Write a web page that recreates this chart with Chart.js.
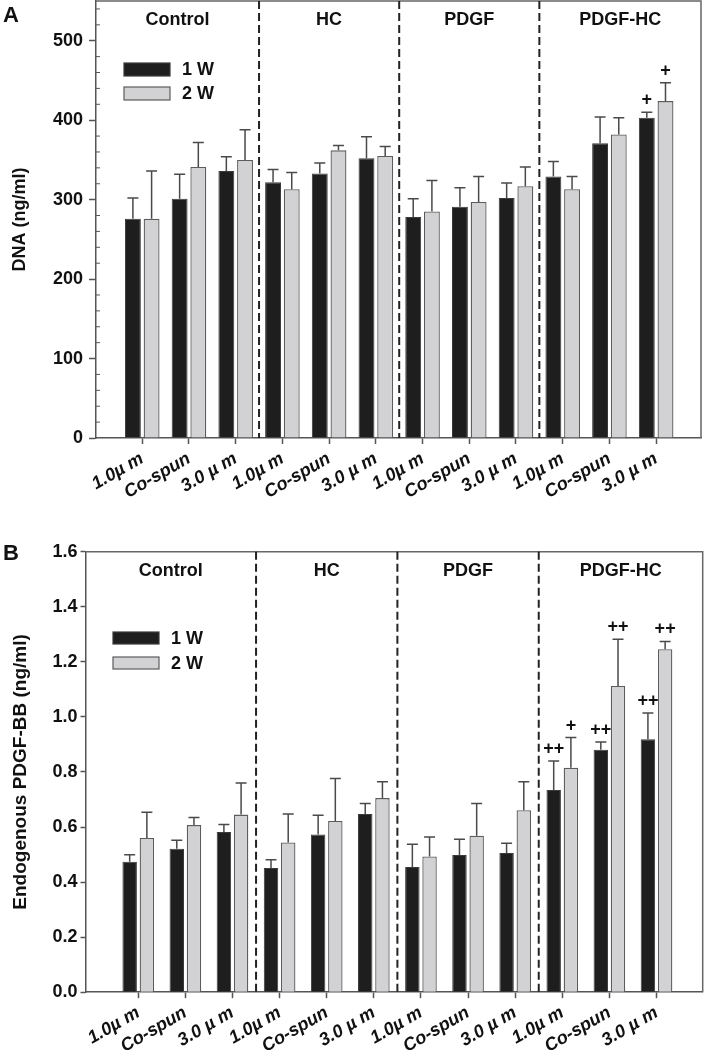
<!DOCTYPE html>
<html>
<head>
<meta charset="utf-8">
<script src="https://cdn.jsdelivr.net/npm/chart.js@4.4.0/dist/chart.umd.min.js"></script>
<style>
  body { margin: 0; background: #fff; }
  canvas { position: absolute; left: 0; }
  #painelA { top: 0; }
  #painelB { top: 525px; }
</style>
</head>
<body>
<canvas id="painelA" width="704" height="525"></canvas>
<canvas id="painelB" width="704" height="525"></canvas>
<script>
// categorias do eixo x e grupos
const tickLabels = ['1.0µ m', 'Co-spun', '3.0 µ m', '1.0µ m', 'Co-spun', '3.0 µ m',
                    '1.0µ m', 'Co-spun', '3.0 µ m', '1.0µ m', 'Co-spun', '3.0 µ m'];
const groupNames = ['Control', 'HC', 'PDGF', 'PDGF-HC'];
const seriesNames = ['1 W', '2 W'];

// Painel A - DNA (ng/ml): media e desvio (so a barra de cima)
const dna1W    = [276, 301, 336, 322, 333, 352, 278, 291, 302, 329, 371, 403];
const dna1WErr = [26, 31, 18, 16, 13, 27, 23, 24, 19, 19, 33, 7];
const dna2W    = [276, 341, 350, 313, 362, 355, 285, 297, 317, 313, 382, 424];
const dna2WErr = [60, 31, 38, 21, 6, 12, 39, 32, 24, 16, 21, 23];
const dna1WSig = ['', '', '', '', '', '', '', '', '', '', '', '+'];
const dna2WSig = ['', '', '', '', '', '', '', '', '', '', '', '+'];
const dnaTicks = [0, 100, 200, 300, 400, 500];

// Painel B - PDGF-BB endogeno (ng/ml)
const pdgf1W    = [0.474, 0.521, 0.582, 0.451, 0.573, 0.647, 0.455, 0.498, 0.506, 0.734, 0.881, 0.919];
const pdgf1WErr = [0.025, 0.031, 0.027, 0.030, 0.070, 0.038, 0.082, 0.058, 0.035, 0.106, 0.028, 0.095];
const pdgf2W    = [0.560, 0.607, 0.645, 0.544, 0.622, 0.705, 0.493, 0.568, 0.661, 0.815, 1.112, 1.246];
const pdgf2WErr = [0.094, 0.028, 0.115, 0.103, 0.154, 0.059, 0.071, 0.117, 0.103, 0.110, 0.170, 0.028];
const pdgf1WSig = ['', '', '', '', '', '', '', '', '', '++', '++', '++'];
const pdgf2WSig = ['', '', '', '', '', '', '', '', '', '+', '++', '++'];
const pdgfTicks = [0, 0.2, 0.4, 0.6, 0.8, 1.0, 1.2, 1.4, 1.6];

const FONTE = "'Liberation Sans', Arial, sans-serif";
Chart.defaults.font.family = FONTE;
Chart.defaults.color = '#111';

// Plugin para moldura, linhas tracejadas, grupos, legenda e barras de erro
const decoracoes = {
    id: 'decoracoes',
    afterDraw(chart, args, o) {
        const { ctx, chartArea: a, scales: { x, y } } = chart;
        const porGrupo = tickLabels.length / groupNames.length;
        ctx.save();

        // moldura (topo e direita)
        ctx.strokeStyle = '#666';
        ctx.lineWidth = 1.5;
        ctx.beginPath();
        ctx.moveTo(a.left, a.top);
        ctx.lineTo(a.right, a.top);
        ctx.lineTo(a.right, a.bottom);
        ctx.stroke();

        // ticks menores do eixo y
        if (o.minorStep) {
            ctx.strokeStyle = '#555';
            ctx.lineWidth = 1;
            for (let v = o.minorStep; v < y.max; v += o.minorStep) {
                if (y.ticks.some(t => Math.abs(t.value - v) < 1e-9)) continue;
                const py = y.getPixelForValue(v);
                ctx.beginPath();
                ctx.moveTo(a.left, py);
                ctx.lineTo(a.left + 4, py);
                ctx.stroke();
            }
        }

        // separadores tracejados
        ctx.strokeStyle = '#222';
        ctx.lineWidth = 2;
        ctx.setLineDash([8, 4]);
        for (let g = 1; g < groupNames.length; g++) {
            const px = x.getPixelForValue(g * porGrupo - 0.5);
            ctx.beginPath();
            ctx.moveTo(px, a.top);
            ctx.lineTo(px, a.bottom);
            ctx.stroke();
        }
        ctx.setLineDash([]);

        // nomes dos grupos
        ctx.fillStyle = '#111';
        ctx.font = 'bold 18px ' + FONTE;
        ctx.textAlign = 'center';
        ctx.textBaseline = 'middle';
        groupNames.forEach((nome, k) => {
            const l = k === 0 ? a.left : x.getPixelForValue(k * porGrupo - 0.5);
            const r = k === groupNames.length - 1 ? a.right : x.getPixelForValue((k + 1) * porGrupo - 0.5);
            ctx.fillText(nome, (l + r) / 2, a.top + 19);
        });

        // barras de erro e marcas de significancia
        chart.data.datasets.forEach((ds, i) => {
            const meta = chart.getDatasetMeta(i);
            meta.data.forEach((bar, j) => {
                const topo = y.getPixelForValue(ds.data[j].y + ds.erros[j]);
                ctx.strokeStyle = '#4a4a4a';
                ctx.lineWidth = 1.5;
                ctx.beginPath();
                ctx.moveTo(bar.x, bar.y);
                ctx.lineTo(bar.x, topo);
                ctx.moveTo(bar.x - 5.5, topo);
                ctx.lineTo(bar.x + 5.5, topo);
                ctx.stroke();
                if (ds.sig[j]) {
                    ctx.font = 'bold 18px ' + FONTE;
                    ctx.fillStyle = '#111';
                    ctx.fillText(ds.sig[j], bar.x, topo - 12);
                }
            });
        });

        // legenda
        const lg = o.legenda;
        chart.data.datasets.forEach((ds, i) => {
            const by = lg.y + i * lg.passo;
            ctx.fillStyle = ds.backgroundColor;
            ctx.fillRect(lg.x, by, 46, lg.h);
            ctx.strokeStyle = ds.borderColor;
            ctx.lineWidth = 1.2;
            ctx.strokeRect(lg.x, by, 46, lg.h);
            ctx.fillStyle = '#111';
            ctx.font = 'bold 18px ' + FONTE;
            ctx.textAlign = 'left';
            ctx.textBaseline = 'middle';
            ctx.fillText(ds.label, lg.x + 58, by + lg.h / 2 + 1);
        });

        // letra do painel
        ctx.font = 'bold 22px ' + FONTE;
        ctx.textBaseline = 'alphabetic';
        ctx.fillText(o.letra, 3, o.letraY);
        ctx.restore();
    }
};

function criarGrafico(id, d) {
    const ctx = document.getElementById(id).getContext('2d');
    return new Chart(ctx, {
        type: 'bar',
        data: {
            datasets: [{
                label: seriesNames[0],
                data: d.s1.map((v, i) => ({ x: i, y: v })),
                erros: d.e1,
                sig: d.sig1,
                backgroundColor: '#1e1e1e',
                borderColor: '#3a3a3a',
                borderWidth: 1
            }, {
                label: seriesNames[1],
                data: d.s2.map((v, i) => ({ x: i, y: v })),
                erros: d.e2,
                sig: d.sig2,
                backgroundColor: '#d2d2d4',
                borderColor: '#5c5c5c',
                borderWidth: 1.3
            }]
        },
        options: {
            responsive: false,
            animation: false,
            layout: { padding: d.padding },
            datasets: { bar: { categoryPercentage: d.catPct, barPercentage: d.barPct } },
            plugins: {
                legend: { display: false },
                tooltip: { enabled: false },
                decoracoes: d.deco
            },
            scales: {
                x: {
                    type: 'linear',
                    min: d.xMin,
                    max: d.xMax,
                    offset: false,
                    afterBuildTicks: s => { s.ticks = tickLabels.map((_, i) => ({ value: i })); },
                    afterFit: s => { s.height = d.xAltura; s.paddingLeft = 0; s.paddingRight = 0; },
                    ticks: {
                        autoSkip: false,
                        minRotation: 30,
                        maxRotation: 30,
                        padding: 4,
                        callback: v => tickLabels[v],
                        font: { size: 18, weight: 'bold', style: 'italic' }
                    },
                    grid: { drawOnChartArea: false, offset: false, tickLength: 6, tickColor: '#555', tickWidth: 1.5 },
                    border: { color: '#555', width: 1.5 }
                },
                y: {
                    min: 0,
                    max: d.yMax,
                    afterBuildTicks: s => { s.ticks = d.yTicks.map(v => ({ value: v })); },
                    afterFit: s => { s.width = d.yLargura; s.paddingTop = 0; s.paddingBottom = 0; },
                    ticks: {
                        autoSkip: false,
                        padding: d.yPad,
                        callback: d.yFmt,
                        font: { size: 18, weight: 'bold' }
                    },
                    grid: { drawOnChartArea: false, tickLength: d.yTickLen, tickColor: '#555', tickWidth: 1.5 },
                    border: { color: '#555', width: 1.5 },
                    title: {
                        display: true,
                        text: d.titulo,
                        font: { size: d.tituloSize, weight: 'bold' },
                        padding: { top: 9, bottom: 0 }
                    }
                }
            }
        },
        plugins: [decoracoes]
    });
}

criarGrafico('painelA', {
    s1: dna1W, e1: dna1WErr, sig1: dna1WSig,
    s2: dna2W, e2: dna2WErr, sig2: dna2WSig,
    yTicks: dnaTicks, yMax: 550, yFmt: v => v,
    titulo: 'DNA (ng/ml)', tituloSize: 18,
    padding: { top: 1, right: 3, left: 0, bottom: 0 },
    xMin: -0.99, xMax: 11.96, xAltura: 87, yLargura: 96,
    yPad: 6, yTickLen: 7,
    catPct: 0.8, barPct: 0.85,
    deco: { letra: 'A', letraY: 22, minorStep: 20, legenda: { x: 124, y: 63, h: 13, passo: 24 } }
});

criarGrafico('painelB', {
    s1: pdgf1W, e1: pdgf1WErr, sig1: pdgf1WSig,
    s2: pdgf2W, e2: pdgf2WErr, sig2: pdgf2WSig,
    yTicks: pdgfTicks, yMax: 1.6, yFmt: v => v.toFixed(1),
    titulo: 'Endogenous PDGF-BB (ng/ml)', tituloSize: 19,
    padding: { top: 26.7, right: 1.3, left: 0, bottom: 0 },
    xMin: -1.12, xMax: 11.98, xAltura: 57.8, yLargura: 85.5,
    yPad: 3, yTickLen: 5,
    catPct: 0.73, barPct: 0.84,
    deco: { letra: 'B', letraY: 35, minorStep: 0, legenda: { x: 113, y: 107, h: 12, passo: 25 } }
});
</script>
</body>
</html>
